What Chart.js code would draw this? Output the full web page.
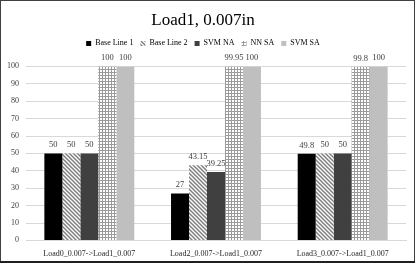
<!DOCTYPE html>
<html>
<head>
<meta charset="utf-8">
<script src="https://cdn.jsdelivr.net/npm/chart.js@4.4.1/dist/chart.umd.min.js"></script>
<style>
  html, body { margin: 0; padding: 0; background: #fff; }
  #wrap { width: 415px; height: 263px; position: relative; }
</style>
</head>
<body>
<div id="wrap"><canvas id="myChart"></canvas></div>
<script>
const categories = ['Load0_0.007->Load1_0.007', 'Load2_0.007->Load1_0.007', 'Load3_0.007->Load1_0.007'];
const baseLine1 = [50, 27, 49.8];
const baseLine2 = [50, 43.15, 50];
const svmNA = [50, 39.25, 50];
const nnSA = [100, 99.95, 99.8];
const svmSA = [100, 100, 100];
const yTicks = [0, 10, 20, 30, 40, 50, 60, 70, 80, 90, 100];

const serif = '"Liberation Serif", "Times New Roman", serif';

function hatchPattern() {
  const c = document.createElement('canvas');
  c.width = 4; c.height = 4;
  const g = c.getContext('2d');
  g.fillStyle = '#fff';
  g.fillRect(0, 0, 4, 4);
  g.strokeStyle = '#7f7f7f';
  g.lineWidth = 1.5;
  g.beginPath();
  g.moveTo(-1, -1); g.lineTo(5, 5);
  g.moveTo(-1, 3); g.lineTo(1, 5);
  g.moveTo(3, -1); g.lineTo(5, 1);
  g.stroke();
  return g.createPattern(c, 'repeat');
}

function gridPattern() {
  const c = document.createElement('canvas');
  c.width = 3; c.height = 3;
  const g = c.getContext('2d');
  g.fillStyle = '#fff';
  g.fillRect(0, 0, 3, 3);
  g.fillStyle = '#9a9a9a';
  g.fillRect(0, 0, 3, 1);
  g.fillRect(0, 0, 1, 3);
  return g.createPattern(c, 'repeat');
}

// value labels over the bars
const barLabels = {
  id: 'barLabels',
  afterDatasetsDraw(chart) {
    const ctx = chart.ctx;
    ctx.save();
    ctx.font = '8.5px ' + serif;
    ctx.fillStyle = '#404040';
    ctx.textAlign = 'center';
    ctx.textBaseline = 'bottom';
    chart.data.datasets.forEach((ds, i) => {
      chart.getDatasetMeta(i).data.forEach((bar, j) => {
        ctx.fillText(String(ds.data[j]), bar.x, bar.y - 4);
      });
    });
    ctx.restore();
  }
};

// frame round the whole picture
const frame = {
  id: 'frame',
  afterDraw(chart) {
    const ctx = chart.ctx;
    ctx.save();
    ctx.strokeStyle = '#404040';
    ctx.lineWidth = 1;
    ctx.strokeRect(0.5, 0.5, chart.width - 1, chart.height - 2);
    ctx.fillStyle = '#202020';
    ctx.fillRect(0, chart.height - 2, chart.width, 2);
    ctx.restore();
  }
};

new Chart(document.getElementById('myChart'), {
  type: 'bar',
  data: {
    labels: categories,
    datasets: [
      { label: 'Base Line 1', data: baseLine1, backgroundColor: '#000000' },
      { label: 'Base Line 2', data: baseLine2, backgroundColor: hatchPattern() },
      { label: 'SVM NA', data: svmNA, backgroundColor: '#404040' },
      { label: 'NN SA', data: nnSA, backgroundColor: gridPattern() },
      { label: 'SVM SA', data: svmSA, backgroundColor: '#bfbfbf' }
    ]
  },
  options: {
    responsive: true,
    maintainAspectRatio: false,
    animation: false,
    categoryPercentage: 0.71,
    barPercentage: 1,
    layout: { padding: { left: 0, right: 9, top: 2, bottom: 3 } },
    scales: {
      x: {
        grid: { display: false },
        border: { color: '#d9d9d9' },
        ticks: { color: '#262626', font: { family: serif, size: 8 }, padding: 1 }
      },
      y: {
        min: 0,
        max: 100,
        afterBuildTicks(axis) { axis.ticks = yTicks.map(v => ({ value: v })); },
        grid: { color: '#d9d9d9', drawTicks: false },
        border: { display: false },
        ticks: { color: '#404040', font: { family: serif, size: 8 }, padding: 7 }
      }
    },
    plugins: {
      title: {
        display: true,
        text: 'Load1, 0.007in',
        color: '#000',
        font: { family: serif, size: 17, weight: 'normal' },
        padding: { top: 8, bottom: 2 }
      },
      legend: {
        display: true,
        labels: {
          color: '#000',
          font: { family: serif, size: 8 },
          boxWidth: 5,
          boxHeight: 5,
          padding: 7
        }
      },
      tooltip: { enabled: false }
    }
  },
  plugins: [barLabels, frame, {
    id: 'legendGap',
    beforeInit(chart) {
      const fit = chart.legend.fit;
      chart.legend.fit = function () {
        fit.bind(chart.legend)();
        this.height += 9;
      };
    }
  }]
});
</script>
</body>
</html>
